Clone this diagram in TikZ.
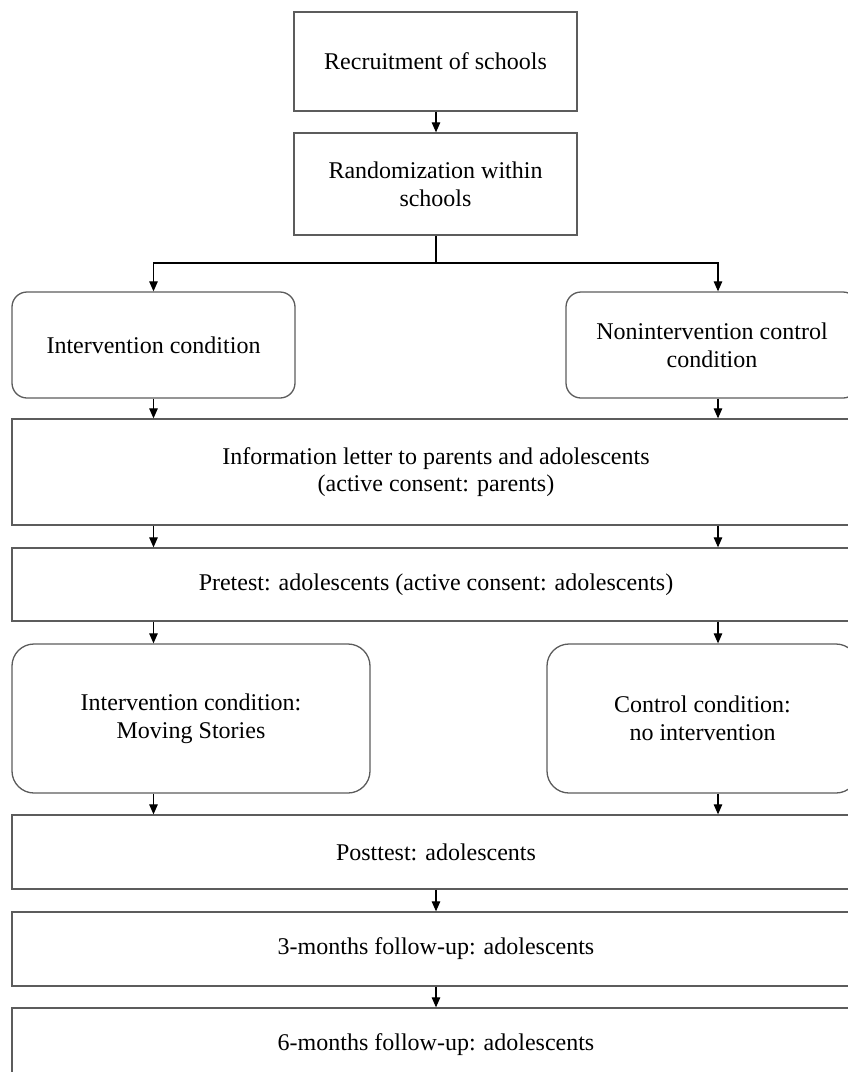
\documentclass[tikz,border=0pt]{standalone}
\usepackage{fontspec}
\setmainfont{Liberation Serif}
\usetikzlibrary{arrows.meta}
\definecolor{edge}{rgb}{0.36,0.36,0.36}
\tikzset{
  box/.style={draw=edge, line width=1.3pt, inner sep=0pt, align=center,
    font=\fontsize{24}{27.6}\selectfont},
  rbox/.style={box, rounded corners=15pt},
  rboxb/.style={box, rounded corners=22pt},
  arr/.style={draw=black, line width=1.1pt, -{Triangle[length=10pt,width=8.5pt]}},
  con/.style={draw=black, line width=1.1pt}
}
\begin{document}
\begin{tikzpicture}[x=1pt,y=-1pt]
\useasboundingbox (0,0) rectangle (848,1072);
\clip (0,0) rectangle (848,1072);
\coordinate (cl) at (153.5,0);
\coordinate (cr) at (718,0);
\coordinate (cm) at (436,0);

\node[box, minimum width=283pt, minimum height=99pt] (b1) at (435.5,61.5) {Recruitment of schools};
\node[box, minimum width=283pt, minimum height=102pt] (b2) at (435.5,184) {Randomization within\\schools};
\node[rbox, minimum width=283pt, minimum height=106pt] (r1l) at (153.5,345) {Intervention condition};
\node[rbox, minimum width=292pt, minimum height=106pt] (r1r) at (712,345) {Nonintervention control\\condition};
\node[box, minimum width=848pt, minimum height=106pt] (info) at (436,472) {Information letter to parents and adolescents\\(active consent: parents)};
\node[box, minimum width=848pt, minimum height=73pt] (pre) at (436,584.5) {Pretest: adolescents (active consent: adolescents)};
\node[rboxb, minimum width=358pt, minimum height=149pt] (r2l) at (191,718.5) {Intervention condition:\\Moving Stories};
\node[rboxb, minimum width=311pt, minimum height=149pt] (r2r) at (702.5,718.5) {Control condition:\\no intervention};
\node[box, minimum width=848pt, minimum height=74pt] (post) at (436,852) {Posttest: adolescents};
\node[box, minimum width=848pt, minimum height=74pt] (m3) at (436,949) {3-months follow-up: adolescents};
\node[box, minimum width=848pt, minimum height=74pt] (m6) at (436,1045) {6-months follow-up: adolescents};

\draw[arr] (b1.south -| cm) -- (b2.north -| cm);
\coordinate (split) at (436,263);
\draw[con] (b2.south -| cm) -- (split);
\draw[arr] (split) -| (r1l.north -| cl);
\draw[arr] (split) -| (r1r.north -| cr);
\draw[arr] (r1l.south -| cl) -- (info.north -| cl);
\draw[arr] (r1r.south -| cr) -- (info.north -| cr);
\draw[arr] (info.south -| cl) -- (pre.north -| cl);
\draw[arr] (info.south -| cr) -- (pre.north -| cr);
\draw[arr] (pre.south -| cl) -- (r2l.north -| cl);
\draw[arr] (pre.south -| cr) -- (r2r.north -| cr);
\draw[arr] (r2l.south -| cl) -- (post.north -| cl);
\draw[arr] (r2r.south -| cr) -- (post.north -| cr);
\draw[arr] (post.south -| cm) -- (m3.north -| cm);
\draw[arr] (m3.south -| cm) -- (m6.north -| cm);
\end{tikzpicture}
\end{document}
